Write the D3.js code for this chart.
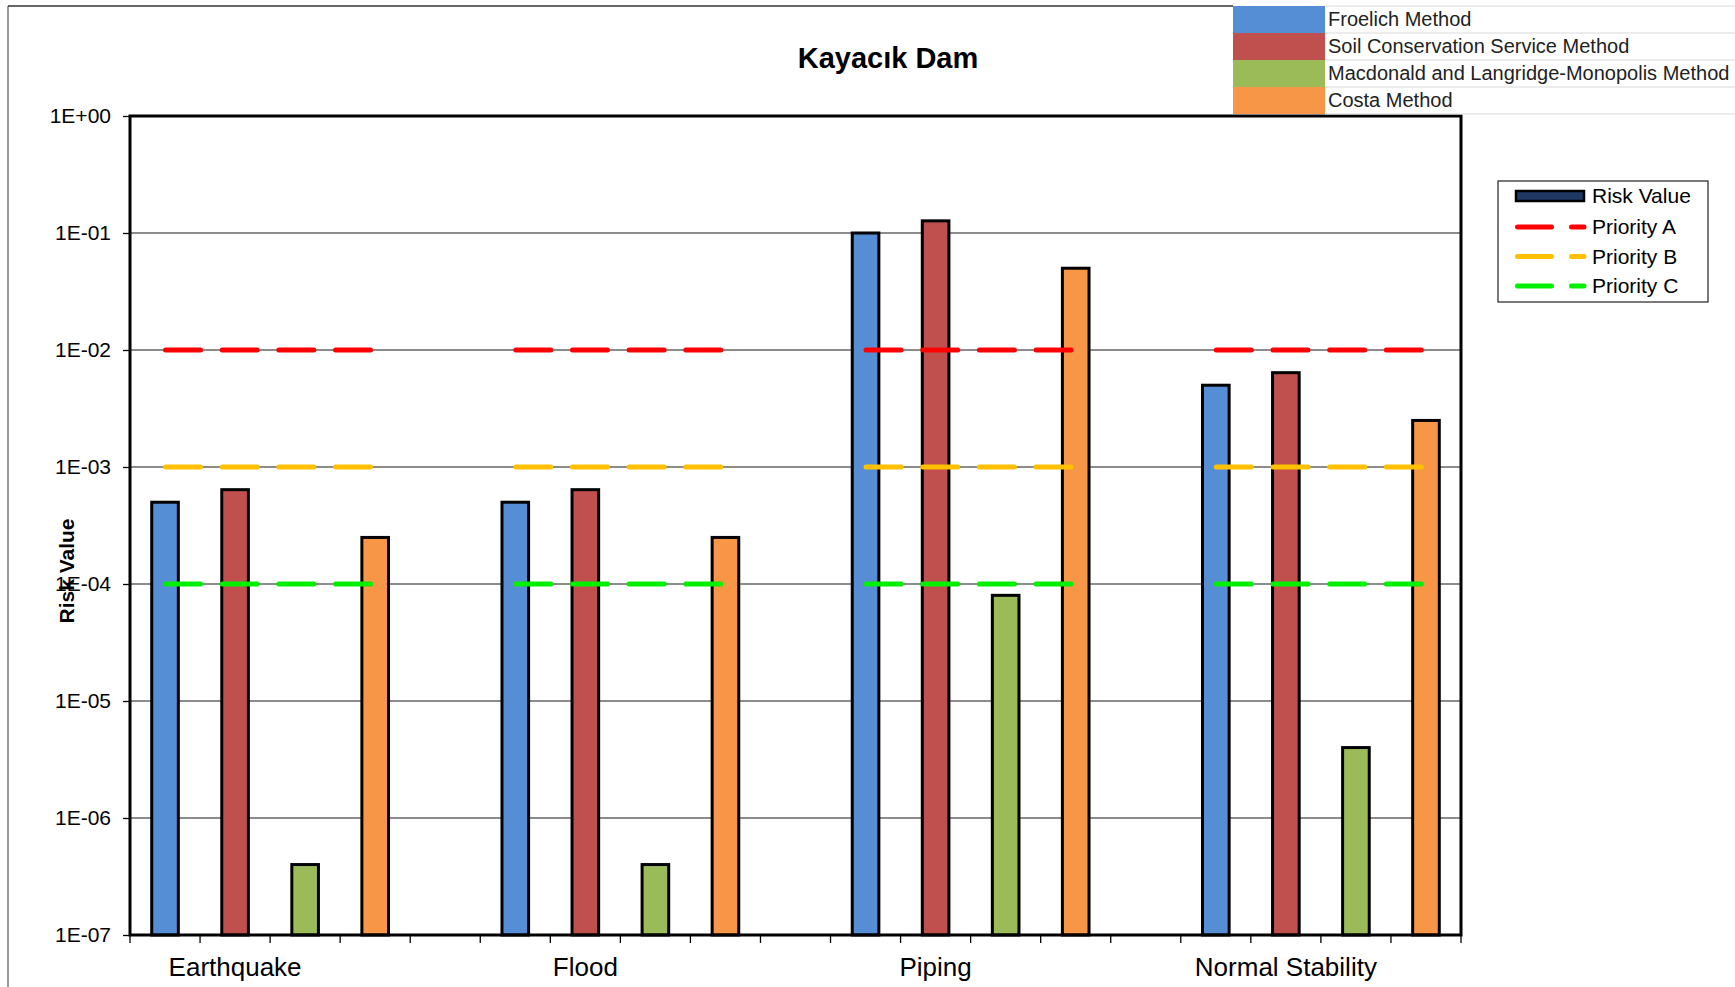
<!DOCTYPE html>
<html>
<head>
<meta charset="utf-8">
<script src="https://cdn.jsdelivr.net/npm/d3@7"></script>
<style>
  html, body { margin: 0; padding: 0; background: #fff; }
  svg { display: block; font-family: Arial, "Liberation Sans", sans-serif; }
</style>
</head>
<body>
<svg id="chart" width="1735" height="987"></svg>
<script>
// Failure modes along the x axis
const categories = ["Earthquake", "Flood", "Piping", "Normal Stability"];

// Breach-estimation methods (one bar per method in each failure mode)
const methods = [
  "Froelich Method",
  "Soil Conservation Service Method",
  "Macdonald and Langridge-Monopolis Method",
  "Costa Method"
];
const methodColors = ["#558ED5", "#C0504D", "#9BBB59", "#F79646"];

// Risk values per method, in category order
const froelich   = [5e-4, 5e-4, 1.0e-1, 5e-3];
const scs        = [6.4e-4, 6.4e-4, 1.27e-1, 6.4e-3];
const macdonald  = [4e-7, 4e-7, 8e-5, 4e-6];
const costa      = [2.5e-4, 2.5e-4, 5e-2, 2.5e-3];
const seriesValues = [froelich, scs, macdonald, costa];

// Priority thresholds
const priorityNames  = ["Priority A", "Priority B", "Priority C"];
const priorityValues = [1e-2, 1e-3, 1e-4];
const priorityColors = ["#FF0000", "#FFC000", "#00F000"];

// Y axis ticks
const yTickValues = [1e0, 1e-1, 1e-2, 1e-3, 1e-4, 1e-5, 1e-6, 1e-7];
const yTickLabels = ["1E+00", "1E-01", "1E-02", "1E-03", "1E-04", "1E-05", "1E-06", "1E-07"];

const svg = d3.select("#chart");

// Plot area
const plot = { left: 130, right: 1461, top: 116, bottom: 935 };

// Each category takes four slots (one per method) followed by an empty slot
const slotsPerGroup = methods.length + 1;
const slotCount = categories.length * slotsPerGroup - 1;

const x = d3.scaleBand()
  .domain(d3.range(slotCount))
  .range([plot.left, plot.right])
  .paddingInner(0).paddingOuter(0);

const y = d3.scaleLog()
  .domain([1e-7, 1])
  .range([plot.bottom, plot.top]);

const barWidth = x.bandwidth() * 0.38;

// Outer chart frame
svg.append("line")
  .attr("x1", 8).attr("x2", 8).attr("y1", 6).attr("y2", 987)
  .attr("stroke", "#777").attr("stroke-width", 1.5);
svg.append("line")
  .attr("x1", 8).attr("x2", 1233).attr("y1", 6).attr("y2", 6)
  .attr("stroke", "#333").attr("stroke-width", 1.5);

// Title
svg.append("text")
  .attr("x", 888).attr("y", 68)
  .attr("text-anchor", "middle")
  .attr("font-size", 29).attr("font-weight", "bold")
  .text("Kayacık Dam");

// Horizontal gridlines at each decade
svg.append("g")
  .selectAll("line")
  .data(yTickValues.slice(1, -1))
  .join("line")
  .attr("x1", plot.left).attr("x2", plot.right)
  .attr("y1", d => y(d)).attr("y2", d => y(d))
  .attr("stroke", "#1a1a1a").attr("stroke-width", 1.1);

// Y axis (ticks + labels)
const yAxis = d3.axisLeft(y)
  .tickValues(yTickValues)
  .tickFormat((d, i) => yTickLabels[i])
  .tickSize(7)
  .tickPadding(12);
const yg = svg.append("g")
  .attr("transform", `translate(${plot.left},0)`)
  .call(yAxis);
yg.select(".domain").remove();
yg.selectAll(".tick line").attr("stroke", "#000").attr("stroke-width", 1.3);
yg.selectAll(".tick text")
  .attr("font-size", 21)
  .attr("font-family", "Arial, 'Liberation Sans', sans-serif")
  .attr("fill", "#000");

// X axis tick marks at slot boundaries
const boundaries = d3.range(slotCount + 1).map(i =>
  i < slotCount ? x(i) : x(slotCount - 1) + x.bandwidth());
svg.append("g")
  .selectAll("line")
  .data(boundaries)
  .join("line")
  .attr("x1", d => d).attr("x2", d => d)
  .attr("y1", plot.bottom).attr("y2", plot.bottom + 8)
  .attr("stroke", "#000").attr("stroke-width", 1.3);

// Category labels, centred under the second slot of each group
svg.append("g")
  .selectAll("text")
  .data(categories)
  .join("text")
  .attr("x", (d, i) => x(i * slotsPerGroup + 1) + x.bandwidth() / 2)
  .attr("y", 976)
  .attr("text-anchor", "middle")
  .attr("font-size", 26)
  .text(d => d);

// Bars
const barData = [];
categories.forEach((c, ci) => {
  methods.forEach((m, mi) => {
    barData.push({ slot: ci * slotsPerGroup + mi, value: seriesValues[mi][ci], color: methodColors[mi] });
  });
});
svg.append("g")
  .selectAll("rect")
  .data(barData)
  .join("rect")
  .attr("x", d => x(d.slot) + (x.bandwidth() - barWidth) / 2)
  .attr("y", d => y(d.value))
  .attr("width", barWidth)
  .attr("height", d => y(1e-7) - y(d.value))
  .attr("fill", d => d.color)
  .attr("stroke", "#000")
  .attr("stroke-width", 3);

// Priority threshold lines across each group's bars
const prioData = [];
categories.forEach((c, ci) => {
  priorityValues.forEach((v, pi) => {
    prioData.push({
      x1: x(ci * slotsPerGroup) + x.bandwidth() / 2,
      x2: x(ci * slotsPerGroup + methods.length - 1) + x.bandwidth() / 2,
      value: v, color: priorityColors[pi]
    });
  });
});
const capW = 5;
svg.append("g")
  .selectAll("line")
  .data(prioData)
  .join("line")
  .attr("x1", d => d.x1 + capW / 2 - 2).attr("x2", d => d.x2 - capW / 2 - 2)
  .attr("y1", d => y(d.value)).attr("y2", d => y(d.value))
  .attr("stroke", d => d.color)
  .attr("stroke-width", capW)
  .attr("stroke-linecap", "round")
  .attr("stroke-dasharray", "35,21.67");

// Plot area border
svg.append("rect")
  .attr("x", plot.left).attr("y", plot.top)
  .attr("width", plot.right - plot.left).attr("height", plot.bottom - plot.top)
  .attr("fill", "none").attr("stroke", "#000").attr("stroke-width", 3);

// Y axis title
svg.append("text")
  .attr("transform", "translate(74,571) rotate(-90)")
  .attr("text-anchor", "middle")
  .attr("font-size", 21).attr("font-weight", "bold")
  .text("Risk Value");

// Method legend (top right)
const legRowH = 27;
const leg1 = svg.append("g").attr("transform", "translate(1233,6)");
leg1.selectAll("line.sep")
  .data(d3.range(methods.length + 1))
  .join("line")
  .attr("class", "sep")
  .attr("x1", 92).attr("x2", 502)
  .attr("y1", i => i * legRowH).attr("y2", i => i * legRowH)
  .attr("stroke", "#d9d9d9").attr("stroke-width", 1);
leg1.selectAll("rect")
  .data(methods)
  .join("rect")
  .attr("x", 0).attr("y", (d, i) => i * legRowH)
  .attr("width", 92).attr("height", legRowH)
  .attr("fill", (d, i) => methodColors[i]);
leg1.selectAll("text")
  .data(methods)
  .join("text")
  .attr("x", 95).attr("y", (d, i) => i * legRowH + 20)
  .attr("font-size", 20)
  .attr("fill", "#222")
  .text(d => d);

// Risk / priority legend
const leg2 = svg.append("g").attr("transform", "translate(1498,181)");
leg2.append("rect")
  .attr("x", 0).attr("y", 0).attr("width", 210).attr("height", 121)
  .attr("fill", "#fff").attr("stroke", "#222").attr("stroke-width", 1.2);
leg2.append("rect")
  .attr("x", 18).attr("y", 10).attr("width", 68).attr("height", 10)
  .attr("fill", "#1F3864").attr("stroke", "#000").attr("stroke-width", 2.5);
leg2.append("text")
  .attr("x", 94).attr("y", 22)
  .attr("font-size", 21)
  .text("Risk Value");
const legPrio = leg2.selectAll("g.prio")
  .data(priorityNames)
  .join("g")
  .attr("class", "prio")
  .attr("transform", (d, i) => `translate(0,${46 + i * 29.5})`);
legPrio.append("line")
  .attr("x1", 19.5).attr("x2", 86)
  .attr("y1", 0).attr("y2", 0)
  .attr("stroke", (d, i) => priorityColors[i])
  .attr("stroke-width", 5)
  .attr("stroke-linecap", "round")
  .attr("stroke-dasharray", "34,20");
legPrio.append("text")
  .attr("x", 94).attr("y", 7)
  .attr("font-size", 21)
  .text(d => d);
</script>
</body>
</html>
